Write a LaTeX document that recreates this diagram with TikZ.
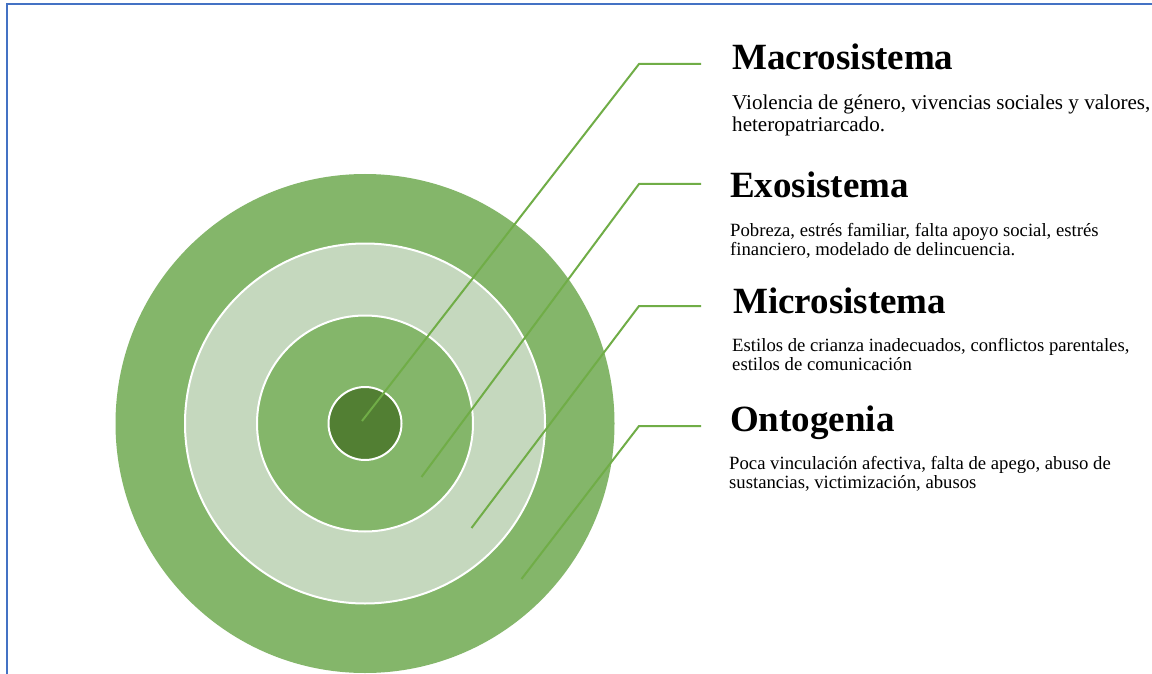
\documentclass[tikz,border=0pt]{standalone}
\usepackage{fontspec}
\setmainfont{Liberation Serif}
\definecolor{ringgreen}{HTML}{84B66A}
\definecolor{ringlight}{HTML}{C5D8BE}
\definecolor{ringdark}{HTML}{527F33}
\definecolor{leadgreen}{HTML}{70AD47}
\definecolor{frameblue}{HTML}{4472C4}
\tikzset{
  ring/.style={draw=white, line width=2pt},
  leader/.style={draw=leadgreen, line width=2pt, line join=miter},
  titletext/.style={anchor=base west, inner sep=0pt, font=\bfseries\fontsize{37}{37}\selectfont},
  bodytext/.style={anchor=base west, inner sep=0pt},
}
\newcommand{\bodylines}[4]{\parbox[t]{460pt}{\fontsize{#1}{#2}\selectfont\raggedright #3\\#4}}
\begin{document}
\begin{tikzpicture}[x=1pt,y=-1pt]
\useasboundingbox (0,0) rectangle (1152,674);
\fill[white] (0,0) rectangle (1152,674);
% frame
\draw[frameblue, line width=2pt] (7,674) -- (7,4) -- (1152,4);
% circles
\begin{scope}
\clip (0,0) rectangle (1152,674);
\fill[ringgreen] (365,423.5) circle[radius=249.5];
\end{scope}
\fill[ringlight, ring] (365,423.5) circle[radius=180];
\fill[ringgreen, ring] (365,423.5) circle[radius=108];
\fill[ringdark, ring] (365,423.5) circle[radius=36.5];
% titles
\node[titletext] (t1) at (732,69.5) {Macrosistema};
\node[titletext] (t2) at (730,197) {Exosistema};
\node[titletext] (t3) at (733,313) {Microsistema};
\node[titletext] (t4) at (730,431) {Ontogenia};
% bodies
\node[bodytext] (b1) at (732,110) {\bodylines{21.1}{22}{Violencia de género, vivencias sociales y valores,}{heteropatriarcado.}};
\node[bodytext] (b2) at (730,236.5) {\bodylines{18.7}{19}{Pobreza, estrés familiar, falta apoyo social, estrés}{financiero, modelado de delincuencia.}};
\node[bodytext] (b3) at (732,351.5) {\bodylines{18.7}{19}{Estilos de crianza inadecuados, conflictos parentales,}{estilos de comunicación}};
\node[bodytext] (b4) at (729,469) {\bodylines{18.7}{19}{Poca vinculación afectiva, falta de apego, abuso de}{sustancias, victimización, abusos}};
% leader coordinates
\coordinate (s1) at (362,421);
\coordinate (k1) at (639,64);
\coordinate (e1) at (701,64);
\coordinate (s2) at (421.5,477);
\coordinate (k2) at (639,184);
\coordinate (e2) at (701,184);
\coordinate (s3) at (471.5,528);
\coordinate (k3) at (639,306);
\coordinate (e3) at (701,306);
\coordinate (s4) at (521.5,579);
\coordinate (k4) at (639,426);
\coordinate (e4) at (701,426);
\draw[leader] (s1) -- (k1) -- (e1);
\draw[leader] (s2) -- (k2) -- (e2);
\draw[leader] (s3) -- (k3) -- (e3);
\draw[leader] (s4) -- (k4) -- (e4);
\end{tikzpicture}
\end{document}
